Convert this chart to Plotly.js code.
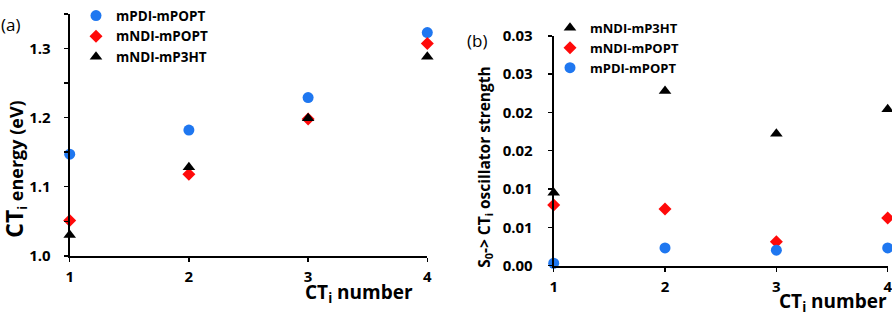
<!DOCTYPE html>
<html>
<head>
<meta charset="utf-8">
<script src="https://cdn.plot.ly/plotly-3.0.1.min.js"></script>
<style>html,body{margin:0;padding:0;background:#fff;}#chart{width:892px;height:312px;}</style>
</head>
<body>
<div id="chart"></div>
<script>
// ---- data ----
var ctNumber = [1, 2, 3, 4];
// panel (a): CT_i energy (eV)
var energyPDIPOPT = [1.147, 1.182, 1.229, 1.323];
var energyNDIPOPT = [1.051, 1.118, 1.198, 1.307];
var energyNDIP3HT = [1.030, 1.128, 1.199, 1.288];
// panel (b): S0->CT_i oscillator strength
var oscNDIP3HT = [0.0095, 0.0228, 0.0172, 0.0204];
var oscNDIPOPT = [0.0079, 0.0074, 0.0031, 0.0062];
var oscPDIPOPT = [0.0003, 0.0023, 0.0020, 0.0023];
// tick labels
var xTickVals = [1, 2, 3, 4];
var xTickText = ["1", "2", "3", "4"];
var yTickValsA = [1.0, 1.05, 1.1, 1.15, 1.2, 1.25, 1.3, 1.35];
var yTickTextA = ["1.0", " ", "1.1", " ", "1.2", " ", "1.3", " "];
var yTickValsB = [0, 0.005, 0.01, 0.015, 0.02, 0.025, 0.03];
var yTickTextB = ["0.00", "0.01", "0.01", "0.02", "0.02", "0.03", "0.03"];
var names = {pdi: "mPDI-mPOPT", ndiPopt: "mNDI-mPOPT", ndiP3ht: "mNDI-mP3HT"};

// ---- styles ----
var FONT = "'Open Sans', 'Noto Sans', sans-serif";
var BLUE = "#1f77f0", RED = "#ff0a0a", BLACK = "#000000";
var mk = {
  pdi: {symbol: "circle", size: 11, color: BLUE},
  ndiPopt: {symbol: "diamond", size: 10, color: RED},
  ndiP3ht: {symbol: "triangle-up", size: 11, color: BLACK}
};
function tr(x, y, name, m, xa, ya, leg) {
  return {x: x, y: y, name: name, type: "scatter", mode: "markers",
    marker: {symbol: m.symbol, size: m.size, color: m.color, line: {width: 0}},
    xaxis: xa, yaxis: ya, legend: leg, cliponaxis: false, hoverinfo: "x+y+name"};
}
var data = [
  tr(ctNumber, energyPDIPOPT, names.pdi, mk.pdi, "x", "y", "legend"),
  tr(ctNumber, energyNDIPOPT, names.ndiPopt, mk.ndiPopt, "x", "y", "legend"),
  tr(ctNumber, energyNDIP3HT, names.ndiP3ht, mk.ndiP3ht, "x", "y", "legend"),
  tr(ctNumber, oscNDIP3HT, names.ndiP3ht, mk.ndiP3ht, "x2", "y2", "legend2"),
  tr(ctNumber, oscNDIPOPT, names.ndiPopt, mk.ndiPopt, "x2", "y2", "legend2"),
  tr(ctNumber, oscPDIPOPT, names.pdi, mk.pdi, "x2", "y2", "legend2")
];

var W = 892, H = 312;
function px(v) { return v / W; }
function py(v) { return (H - v) / H; }
var tickFont = {family: FONT, size: 15, color: "#000", weight: "bold"};
var axBase = {showgrid: false, zeroline: false, showline: true, linecolor: "#000", linewidth: 2,
  ticks: "outside", ticklen: 4, tickwidth: 1.5, tickcolor: "#000", tickfont: tickFont, fixedrange: true,
  ticklabeloverflow: "allow"};
function ax(o) { var r = {}; for (var k in axBase) r[k] = axBase[k]; for (var k2 in o) r[k2] = o[k2]; return r; }

var layout = {
  width: W, height: H,
  margin: {l: 0, r: 0, t: 0, b: 0},
  paper_bgcolor: "#fff", plot_bgcolor: "rgba(0,0,0,0)",
  showlegend: true,
  xaxis: ax({domain: [px(69.7), px(427.3)], range: [1, 4], anchor: "y",
    tickmode: "array", tickvals: xTickVals, ticktext: xTickText, ticklabelstandoff: 2}),
  yaxis: ax({domain: [py(254), py(4)], range: [1.0, 1.35], anchor: "x",
    tickmode: "array", tickvals: yTickValsA, ticktext: yTickTextA, ticklabelstandoff: 10}),
  xaxis2: ax({domain: [px(553.7), px(887.7)], range: [1, 4], anchor: "y2",
    tickmode: "array", tickvals: xTickVals, ticktext: xTickText, ticklabelstandoff: 2}),
  yaxis2: ax({domain: [py(264), py(26.7)], range: [0, 0.03], anchor: "x2",
    tickmode: "array", tickvals: yTickValsB, ticktext: yTickTextB, ticklabelstandoff: 12}),
  legend: {x: px(76), y: py(-10), xanchor: "left", yanchor: "top", bgcolor: "rgba(0,0,0,0)",
    font: {family: FONT, size: 13.5, color: "#000", weight: "bold"}, tracegroupgap: 0, itemwidth: 30, borderwidth: 0},
  legend2: {x: px(550), y: py(3), xanchor: "left", yanchor: "top", bgcolor: "rgba(0,0,0,0)",
    font: {family: FONT, size: 13, color: "#000", weight: "bold"}, tracegroupgap: 0, itemwidth: 30, borderwidth: 0},
  annotations: [
    {text: "(a)", xref: "paper", yref: "paper", x: px(-1), y: py(15), xanchor: "left", yanchor: "middle",
      showarrow: false, font: {family: FONT, size: 17, color: "#000"}},
    {text: "(b)", xref: "paper", yref: "paper", x: px(465), y: py(32), xanchor: "left", yanchor: "middle",
      showarrow: false, font: {family: FONT, size: 17, color: "#000"}},
    {text: "<span style='font-size:23px'>CT</span><sub>i</sub> energy (eV)", xref: "paper", yref: "paper",
      x: px(15), y: py(165), xanchor: "center", yanchor: "middle", textangle: -90,
      showarrow: false, font: {family: FONT, size: 18, color: "#000", weight: "bold"}},
    {text: "CT<sub>i</sub> number", xref: "paper", yref: "paper", x: px(359), y: py(292),
      xanchor: "center", yanchor: "middle", showarrow: false,
      font: {family: FONT, size: 19, color: "#000", weight: "bold"}},
    {text: "S<sub>0</sub>-&gt; CT<sub>i</sub> oscillator strength", xref: "paper", yref: "paper",
      x: px(485), y: py(162), xanchor: "center", yanchor: "middle", textangle: -90,
      showarrow: false, font: {family: FONT, size: 15.5, color: "#000", weight: "bold"}},
    {text: "CT<sub>i</sub> number", xref: "paper", yref: "paper", x: px(833), y: py(302),
      xanchor: "center", yanchor: "middle", showarrow: false,
      font: {family: FONT, size: 19, color: "#000", weight: "bold"}}
  ]
};
Plotly.newPlot("chart", data, layout, {displayModeBar: false, staticPlot: true});
</script>
</body>
</html>
